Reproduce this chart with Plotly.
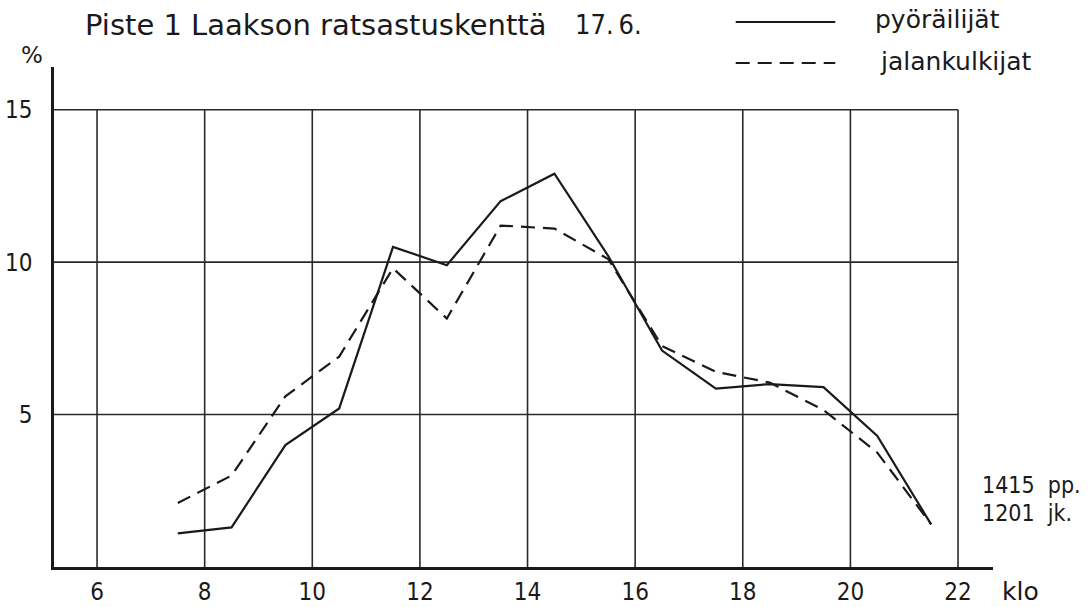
import plotly.graph_objects as go

# ---- data ----
hours = [7.5, 8.5, 9.5, 10.5, 11.5, 12.5, 13.5, 14.5, 15.5, 16.5, 17.5, 18.5, 19.5, 20.5, 21.5]
pyorailijat = [1.1, 1.3, 4.0, 5.2, 10.5, 9.9, 12.0, 12.9, 10.2, 7.1, 5.85, 6.0, 5.9, 4.3, 1.4]
jalankulkijat = [2.1, 3.0, 5.6, 6.9, 9.8, 8.15, 11.2, 11.1, 10.1, 7.25, 6.4, 6.05, 5.15, 3.75, 1.4]

x_ticks = [6, 8, 10, 12, 14, 16, 18, 20, 22]
y_ticks = [5, 10, 15]

title_main = "Piste 1 Laakson ratsastuskenttä"
title_date = "17.\u20096."
legend_names = ["pyöräilijät", "jalankulkijat"]
totals = ["1415&nbsp;&nbsp;pp.", "1201&nbsp;&nbsp;jk."]

XMIN, XMAX = 5.2, 22.65
YMIN, YMAX = 0, 16.4

NUM_FONT = "Liberation Sans Narrow, DejaVu Sans Condensed, sans-serif"
TXT_FONT = "DejaVu Sans, sans-serif"
INK = "#1a1a1a"

fig = go.Figure()
fig.add_trace(go.Scatter(x=hours, y=pyorailijat, mode="lines", name=legend_names[0],
                         line=dict(color=INK, width=2.2)))
fig.add_trace(go.Scatter(x=hours, y=jalankulkijat, mode="lines", name=legend_names[1],
                         line=dict(color=INK, width=2.2, dash="14px,8px")))

shapes = []
# vertical grid lines (stop at 15)
for xv in x_ticks:
    shapes.append(dict(type="line", xref="x", yref="y", x0=xv, x1=xv, y0=0, y1=max(y_ticks),
                       line=dict(color="#2a2a2a", width=1.6), layer="below"))
# horizontal grid lines (from y-axis to 22)
for yv in y_ticks:
    shapes.append(dict(type="line", xref="x domain", yref="y", x0=0,
                       x1=(max(x_ticks) - XMIN) / (XMAX - XMIN),
                       y0=yv, y1=yv, line=dict(color="#2a2a2a", width=1.6), layer="below"))
# legend samples
shapes.append(dict(type="line", xref="paper", yref="paper", x0=0.726, x1=0.832, y0=1.09, y1=1.09,
                   line=dict(color=INK, width=2.2)))
shapes.append(dict(type="line", xref="paper", yref="paper", x0=0.726, x1=0.832, y0=1.008, y1=1.008,
                   line=dict(color=INK, width=2.2, dash="14px,8px")))

annotations = [
    dict(text=title_main, xref="paper", yref="paper", x=0.031, y=1.084, xanchor="left", yanchor="middle",
         showarrow=False, font=dict(size=29, family=TXT_FONT, color=INK)),
    dict(text=title_date, xref="paper", yref="paper", x=0.553, y=1.084, xanchor="left", yanchor="middle",
         showarrow=False, font=dict(size=27, family=NUM_FONT, color=INK)),
    dict(text="%", xref="paper", yref="paper", x=-0.0234, y=1.024, xanchor="center", yanchor="middle",
         showarrow=False, font=dict(size=23, family=TXT_FONT, color=INK)),
    dict(text=legend_names[0], xref="paper", yref="paper", x=0.872, y=1.094, xanchor="left", yanchor="middle",
         showarrow=False, font=dict(size=25, family=TXT_FONT, color=INK)),
    dict(text=legend_names[1], xref="paper", yref="paper", x=0.877, y=1.01, xanchor="left", yanchor="middle",
         showarrow=False, font=dict(size=25, family=TXT_FONT, color=INK)),
    dict(text="klo", xref="paper", yref="paper", x=1.029, y=-0.048, xanchor="center", yanchor="middle",
         showarrow=False, font=dict(size=25, family=TXT_FONT, color=INK)),
    dict(text=totals[0], xref="paper", yref="paper", x=0.986, y=0.164, xanchor="left", yanchor="middle",
         showarrow=False, font=dict(size=23, family=NUM_FONT, color=INK)),
    dict(text=totals[1], xref="paper", yref="paper", x=0.986, y=0.108, xanchor="left", yanchor="middle",
         showarrow=False, font=dict(size=23, family=NUM_FONT, color=INK)),
]

fig.update_layout(
    width=1091, height=607,
    margin=dict(l=54, r=98, t=67, b=40, autoexpand=False),
    paper_bgcolor="white", plot_bgcolor="white",
    showlegend=False,
    shapes=shapes, annotations=annotations,
    font=dict(family=NUM_FONT, color=INK, size=24),
)
fig.update_xaxes(range=[XMIN, XMAX], tickvals=x_ticks, ticktext=[str(v) for v in x_ticks],
                 showgrid=False, zeroline=False, showline=True, linecolor=INK, linewidth=2.5,
                 ticks="", ticklabelstandoff=1, automargin=False,
                 tickfont=dict(size=24, family=NUM_FONT, color=INK))
fig.update_yaxes(range=[YMIN, YMAX], tickvals=y_ticks, ticktext=[str(v) for v in y_ticks],
                 showgrid=False, zeroline=False, showline=True, linecolor=INK, linewidth=2.5,
                 ticks="", ticklabelstandoff=14, automargin=False,
                 tickfont=dict(size=24, family=NUM_FONT, color=INK))

fig.write_html("out.html", config={"displayModeBar": False},
               post_script="document.body.style.margin='0';document.body.style.overflow='hidden';")
